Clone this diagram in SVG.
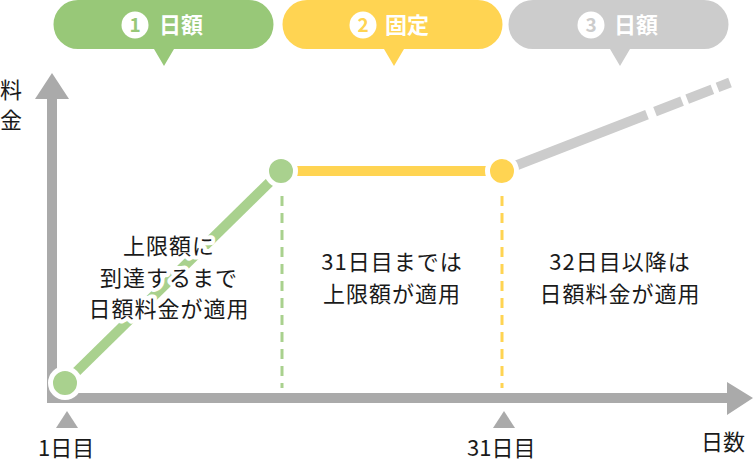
<svg xmlns="http://www.w3.org/2000/svg" width="755" height="462" viewBox="0 0 755 462">
<style>
  .t { font-family: "Noto Sans CJK JP", "Noto Sans", sans-serif; font-size: 22px; fill: #1a1a1a; }
  .body { text-anchor: middle; letter-spacing: 1px; paint-order: stroke; stroke: #fff; stroke-width: 8px; stroke-linejoin: round; }
  .bt { font-family: "Noto Sans CJK JP", "Noto Sans", sans-serif; font-size: 22px; font-weight: 700; fill: #fff; }
  .num { font-family: "Noto Sans CJK JP", "Noto Sans", sans-serif; font-size: 19px; font-weight: 700; text-anchor: middle; }
  .axis { fill: #aaaaaa; }
  .vdash { stroke-width: 3; stroke-dasharray: 10 7; fill: none; }
  .pt { stroke: #fff; stroke-width: 5; }
</style>
<rect width="755" height="462" fill="#fff"/>

<g id="bubble1">
  <path d="M78,0 H249 A24.5,24.5 0 0 1 249,49 H174 L164,66 L154,49 H78 A24.5,24.5 0 0 1 78,0 Z" fill="#98c878"/>
  <circle cx="135" cy="25" r="13.5" fill="#fff"/>
  <text class="num" x="135" y="32" fill="#98c878">1</text>
  <text class="bt" x="159" y="33">日額</text>
</g>
<g id="bubble2">
  <path d="M307,0 H478 A24.5,24.5 0 0 1 478,49 H404 L394,66 L384,49 H307 A24.5,24.5 0 0 1 307,0 Z" fill="#ffd452"/>
  <circle cx="363" cy="25" r="13.5" fill="#fff"/>
  <text class="num" x="363" y="32" fill="#ffd452">2</text>
  <text class="bt" x="385" y="33">固定</text>
</g>
<g id="bubble3">
  <path d="M533,0 H704 A24.5,24.5 0 0 1 704,49 H630 L620,66 L610,49 H533 A24.5,24.5 0 0 1 533,0 Z" fill="#cccccc"/>
  <circle cx="591" cy="25" r="13.5" fill="#fff"/>
  <text class="num" x="591" y="32" fill="#cccccc">3</text>
  <text class="bt" x="614" y="33">日額</text>
</g>

<g id="axes">
  <rect class="axis" x="47" y="98" width="10" height="305"/>
  <polygon class="axis" points="52,73 69,99 35,99"/>
  <rect class="axis" x="47" y="393" width="682" height="10"/>
  <polygon class="axis" points="753,398 727,382 727,415"/>
  <polygon class="axis" points="67,411 78,428 56,428"/>
  <polygon class="axis" points="504,411 515,428 493,428"/>
</g>

<g id="connectors">
  <line class="vdash" x1="282" y1="196" x2="282" y2="388" stroke="#a9d18e"/>
  <line class="vdash" x1="502" y1="196" x2="502" y2="388" stroke="#ffd452"/>
  <line x1="65" y1="383" x2="281" y2="171" stroke="#a9d18e" stroke-width="10"/>
  <line x1="281" y1="171" x2="502" y2="171" stroke="#ffd452" stroke-width="10"/>
  <line x1="502" y1="171" x2="647" y2="114.7" stroke="#cccccc" stroke-width="10"/>
  <line x1="647" y1="114.7" x2="730" y2="82.5" stroke="#cccccc" stroke-width="10" stroke-dasharray="0 8.6 29 5.5 27 5.5 20"/>
</g>

<g id="points">
  <circle class="pt" cx="65" cy="383" r="14.5" fill="#a9d18e"/>
  <circle class="pt" cx="281" cy="171" r="14.5" fill="#a9d18e"/>
  <circle class="pt" cx="502" cy="171" r="14.5" fill="#ffd452"/>
</g>

<g id="labels">
  <text class="t" x="0" y="98">料</text>
  <text class="t" x="0" y="128">金</text>
  <text class="t" x="38" y="456">1日目</text>
  <text class="t" x="467" y="456">31日目</text>
  <text class="t" x="701" y="450">日数</text>
</g>

<g id="note1">
  <text class="t body" x="169" y="254">上限額に</text>
  <text class="t body" x="169" y="286">到達するまで</text>
  <text class="t body" x="169" y="317">日額料金が適用</text>
</g>
<g id="note2">
  <text class="t body" x="392" y="270">31日目までは</text>
  <text class="t body" x="392" y="302">上限額が適用</text>
</g>
<g id="note3">
  <text class="t body" x="620" y="270">32日目以降は</text>
  <text class="t body" x="620" y="302">日額料金が適用</text>
</g>
</svg>
